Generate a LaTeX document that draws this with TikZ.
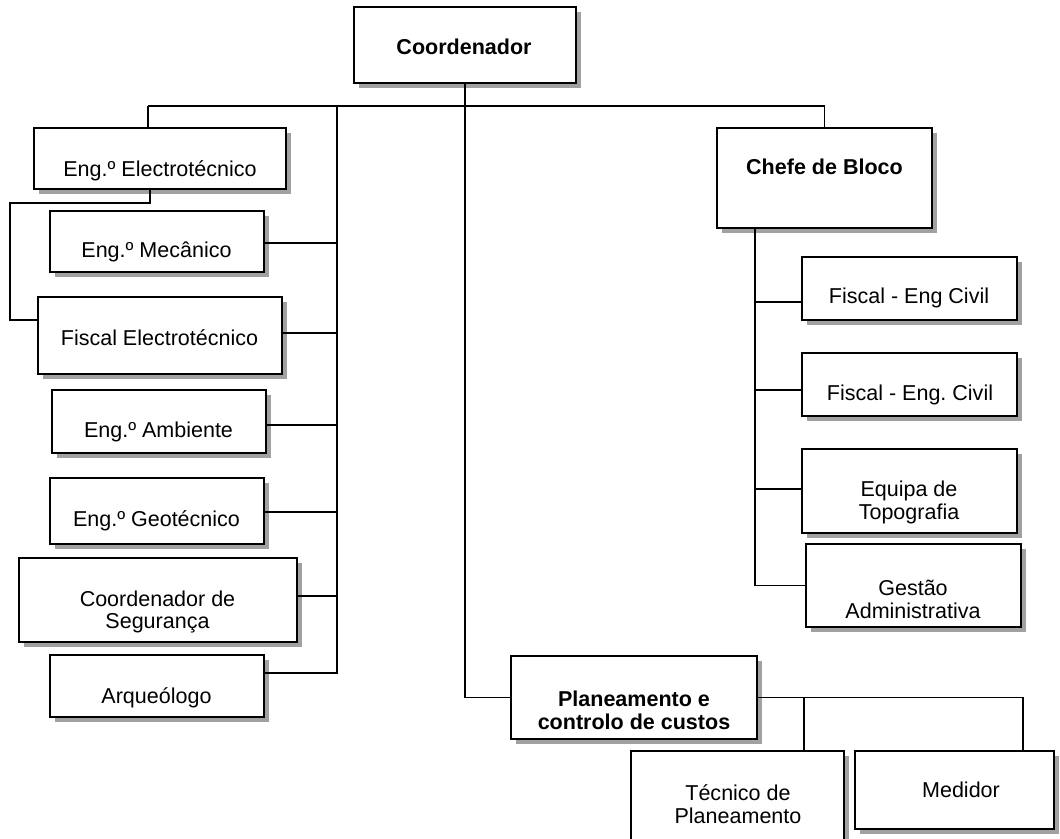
\documentclass[tikz,border=0pt]{standalone}
\usepackage{fontspec}
\setmainfont{Liberation Sans}
\usetikzlibrary{shadows}
\frenchspacing

\begin{document}
\begin{tikzpicture}[x=0.025cm,y=-0.025cm,
  orgbox/.style 2 args={draw,line width=1.3pt,fill=white,inner sep=0pt,
    minimum width=#1*0.025cm,minimum height=#2*0.025cm,
    drop shadow={shadow xshift=3.6pt,shadow yshift=-3.6pt,fill=black!37,opacity=1}},
  lbl/.style={font=\fontsize{15.3}{16.3}\selectfont,inner sep=0pt,text height=10.9pt,text depth=0pt},
  lbltwo/.style={font=\fontsize{15.3}{16.3}\selectfont,inner sep=0pt,align=center},
  link/.style={line width=1.2pt}]
  \useasboundingbox (0,0) rectangle (1060,839);
  \clip (0,0) rectangle (1060,839);

  % boxes
  \node[orgbox={222}{76}]  (coord)  at (465,45) {};
  \node[orgbox={252}{61}]  (eletro) at (160,158.5) {};
  \node[orgbox={214}{61}]  (mecan)  at (157,241.5) {};
  \node[orgbox={244}{77}]  (fiscEl) at (160,335.5) {};
  \node[orgbox={214}{63}]  (ambi)   at (159,421.5) {};
  \node[orgbox={214}{66}]  (geot)   at (157,511) {};
  \node[orgbox={278}{84}]  (segur)  at (158,600) {};
  \node[orgbox={214}{62}]  (arque)  at (157,686) {};
  \node[orgbox={215}{100}] (chefe)  at (824.5,178) {};
  \node[orgbox={215}{63}]  (fcivA)  at (909.5,288.5) {};
  \node[orgbox={215}{63}]  (fcivB)  at (909.5,384.5) {};
  \node[orgbox={215}{84}]  (topo)   at (909.5,491) {};
  \node[orgbox={215}{83}]  (gestao) at (913.5,585.5) {};
  \node[orgbox={246}{83}]  (plan)   at (634,697.5) {};
  \node[orgbox={213}{104}] (tecn)   at (737.5,803) {};
  \node[orgbox={199}{78}]  (medid)  at (954.5,790) {};

  % texts
  \node[lbl,font=\fontsize{15.3}{16.3}\selectfont\bfseries] (tCoord) at (464,46.5) {Coordenador};
  \node[lbl] (tEletro) at (160,168.5) {Eng.º Electrotécnico};
  \node[lbl] (tMecan)  at (156.5,250) {Eng.º Mecânico};
  \node[lbl] (tFiscEl) at (159.5,337.5) {Fiscal Electrotécnico};
  \node[lbl] (tAmbi)   at (158.5,429.5) {Eng.º Ambiente};
  \node[lbl] (tGeot)   at (156.5,519) {Eng.º Geotécnico};
  \node[lbltwo] (tSegur) at (157.5,612) {Coordenador de\\Segurança};
  \node[lbl] (tArque)  at (156.5,695.5) {Arqueólogo};
  \node[lbl,font=\fontsize{15.3}{16.3}\selectfont\bfseries] (tChefe) at (824.5,167) {Chefe de Bloco};
  \node[lbl] (tFcivA)  at (909,295.5) {Fiscal - Eng Civil};
  \node[lbl] (tFcivB)  at (910,392.5) {Fiscal - Eng. Civil};
  \node[lbltwo] (tTopo)   at (909,502) {Equipa de\\Topografia};
  \node[lbltwo] (tGestao) at (913,599) {Gestão\\Administrativa};
  \node[lbltwo,font=\fontsize{15.3}{16.3}\selectfont\bfseries] (tPlan) at (634,710.5) {Planeamento e\\controlo de custos};
  \node[lbltwo] (tTecn)   at (738,804.5) {Técnico de\\Planeamento};
  \node[lbl] (tMedid)  at (961,789.5) {Medidor};

  % top bus
  \coordinate (busL) at (148,106);
  \coordinate (busR) at (chefe.north |- 0,106);
  \draw[link] (busL) -- (busR);
  \draw[link] (busL) -- (busL |- eletro.north);
  \draw[link] (busR) -- (chefe.north);
  \draw[link] (coord.south) |- (plan.west);

  % left column
  \coordinate (jogA) at (150,203);
  \coordinate (jogB) at (10,203);
  \draw[link] (jogA |- eletro.south) -- (jogA) -- (jogB) |- (fiscEl.west |- 0,320);
  \coordinate (spineT) at (337,106);
  \coordinate (spineB) at (337,673);
  \draw[link] (spineT) -- (spineB) -- (spineB -| arque.east);
  \foreach \n/\y in {mecan/243,fiscEl/333,ambi/425,geot/512,segur/596}
    \draw[link] (\n.east |- 0,\y) -- (spineT |- 0,\y);

  % right column
  \coordinate (rspT) at (chefe.south -| 755,0);
  \draw[link] (rspT) |- (gestao.west);
  \foreach \n/\y in {fcivA/302,fcivB/390,topo/489}
    \draw[link] (\n.west |- 0,\y) -- (rspT |- 0,\y);

  % bottom
  \coordinate (medTop) at (medid.north -| 1023,0);
  \coordinate (tecJ) at (plan.east -| 804,0);
  \draw[link] (plan.east) -| (medTop);
  \draw[link] (tecJ) -- (tecJ |- tecn.north);
\end{tikzpicture}
\end{document}
